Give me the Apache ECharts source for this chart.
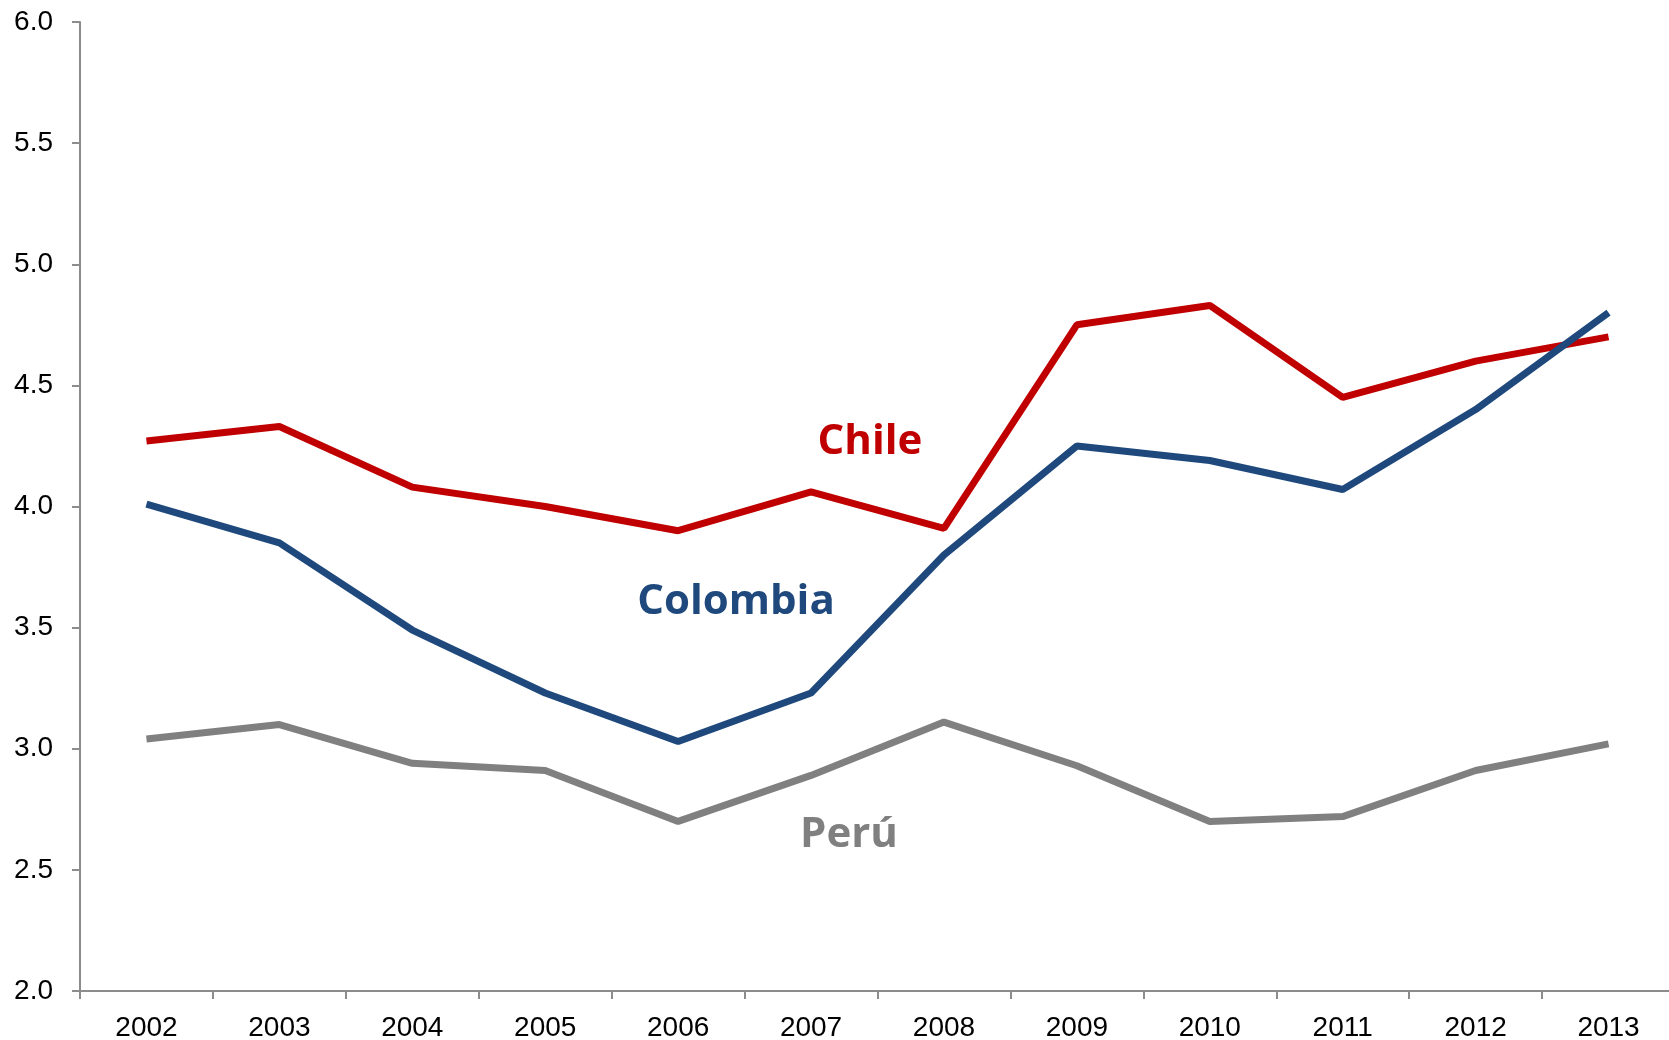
<!DOCTYPE html>
<html><head><meta charset="utf-8">
<script src="https://cdn.jsdelivr.net/npm/echarts@6/dist/echarts.min.js"></script>
<style>html,body{margin:0;padding:0;background:#fff}#c{width:1669px;height:1040px}</style>
</head><body><div id="c"></div>
<script>
var years = ['2002','2003','2004','2005','2006','2007','2008','2009','2010','2011','2012','2013'];
var chile = [4.27,4.33,4.08,4.00,3.90,4.06,3.91,4.75,4.83,4.45,4.60,4.70];
var colombia = [4.01,3.85,3.49,3.23,3.03,3.23,3.80,4.25,4.19,4.07,4.40,4.80];
var peru = [3.04,3.10,2.94,2.91,2.70,2.89,3.11,2.93,2.70,2.72,2.91,3.02];

var chart = echarts.init(document.getElementById('c'));
chart.setOption({
  animation:false,
  grid:{left:80, top:22, width:1595, height:969, containLabel:false, outerBoundsMode:'none'},
  xAxis:{type:'category', data:years, boundaryGap:true,
    axisLine:{lineStyle:{color:'#8c8c8c', width:2}},
    axisTick:{show:true, length:8, lineStyle:{color:'#8c8c8c', width:2}},
    axisLabel:{color:'#000', fontFamily:'Liberation Sans, Arial', fontSize:28, margin:23},
    splitLine:{show:false}},
  yAxis:{type:'value', min:2, max:6, interval:0.5,
    axisLine:{show:true, lineStyle:{color:'#8c8c8c', width:2}},
    axisTick:{show:true, length:8, lineStyle:{color:'#8c8c8c', width:2}},
    axisLabel:{color:'#000', fontFamily:'Liberation Sans, Arial', fontSize:28, margin:27,
      formatter:function(v){return v.toFixed(1);}},
    splitLine:{show:false}},
  series:[
    {name:'Chile', type:'line', data:chile, symbol:'none', lineStyle:{color:'#C00000', width:7}, itemStyle:{color:'#C00000'}},
    {name:'Colombia', type:'line', data:colombia, symbol:'none', lineStyle:{color:'#1F497D', width:7}, itemStyle:{color:'#1F497D'}},
    {name:'Perú', type:'line', data:peru, symbol:'none', lineStyle:{color:'#808080', width:7}, itemStyle:{color:'#808080'}}
  ],
  graphic:[
    {type:'text', x:870, y:442, style:{text:'Chile', fill:'#C00000', font:'bold 42px "Open Sans"', textAlign:'center', textVerticalAlign:'middle'}},
    {type:'text', x:736, y:602, style:{text:'Colombia', fill:'#1F497D', font:'bold 42px "Open Sans"', textAlign:'center', textVerticalAlign:'middle'}},
    {type:'text', x:849, y:835, style:{text:'Perú', fill:'#808080', font:'bold 42px "Open Sans"', textAlign:'center', textVerticalAlign:'middle'}}
  ]
});
</script></body></html>
